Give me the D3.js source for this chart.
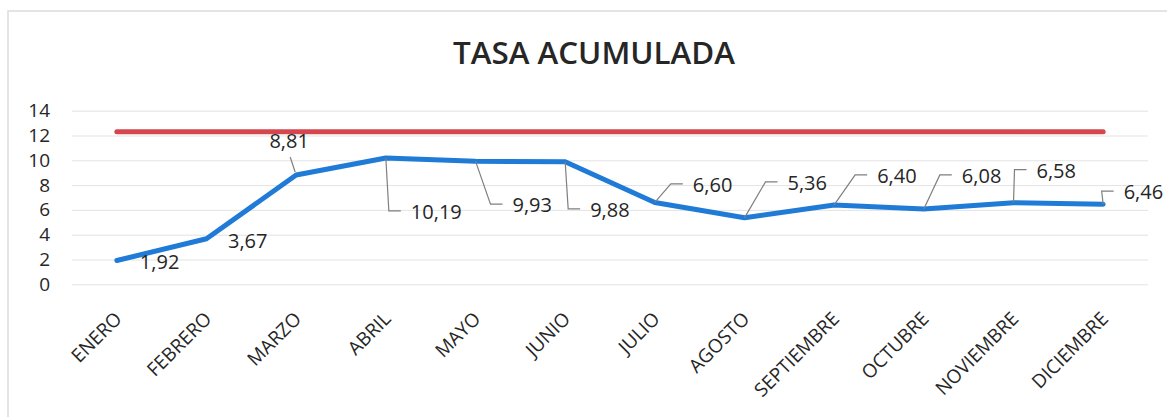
<!DOCTYPE html>
<html>
<head>
<meta charset="utf-8">
<script src="https://cdn.jsdelivr.net/npm/d3@7"></script>
<style>
  html, body { margin: 0; padding: 0; background: #fff; }
  svg { display: block; }
  text { font-family: "Open Sans", "DejaVu Sans", sans-serif; fill: #262626; }
</style>
</head>
<body>
<svg id="chart" width="1167" height="417"></svg>
<script>
// ---- data ----
const months = ["ENERO","FEBRERO","MARZO","ABRIL","MAYO","JUNIO","JULIO","AGOSTO","SEPTIEMBRE","OCTUBRE","NOVIEMBRE","DICIEMBRE"];
const tasa = [1.92, 3.67, 8.81, 10.19, 9.93, 9.88, 6.60, 5.36, 6.40, 6.08, 6.58, 6.46];
const meta = [12.3, 12.3, 12.3, 12.3, 12.3, 12.3, 12.3, 12.3, 12.3, 12.3, 12.3, 12.3];
const yTicks = [0, 2, 4, 6, 8, 10, 12, 14];
const title = "TASA ACUMULADA";

// ---- label layout (offset of label from its point) ----
const labelLayout = [
  {dx: 23, dy: 1.5, type: "none"},
  {dx: 21.5, dy: 2, type: "none"},
  {dx: -7, dy: -34, type: "above"},
  {dx: 25, dy: 54, type: "elbow"},
  {dx: 37, dy: 44, type: "elbow"},
  {dx: 25, dy: 48, type: "elbow"},
  {dx: 38, dy: -17.5, type: "elbow"},
  {dx: 43, dy: -35, type: "elbow"},
  {dx: 43, dy: -29, type: "elbow"},
  {dx: 38, dy: -33, type: "elbow"},
  {dx: 23, dy: -32, type: "elbow"},
  {dx: 20.5, dy: -12, type: "elbow"}
];

const svg = d3.select("#chart");
const plotLeft = 72, plotRight = 1148, plotTop = 110.7, plotBottom = 284.3;

// frame (top and left edges only visible)
svg.append("path").attr("d", "M8,417 L8,11 L1167,11")
  .attr("fill", "none").attr("stroke", "#dcdcdc").attr("stroke-width", 1.5);

const x = d3.scalePoint().domain(months).range([plotLeft, plotRight]).padding(0.5);
const y = d3.scaleLinear().domain([0, 14]).range([plotBottom, plotTop]);

// title
svg.append("text").attr("x", 594).attr("y", 64).attr("text-anchor", "middle")
  .attr("font-size", 30).attr("font-weight", 600).attr("fill", "#333")
  .attr("textLength", 282).attr("lengthAdjust", "spacingAndGlyphs")
  .text(title);

// gridlines
const grid = svg.append("g").attr("transform", `translate(${plotLeft},0)`)
  .call(d3.axisLeft(y).tickValues(yTicks).tickSize(-(plotRight - plotLeft)).tickFormat(""));
grid.select(".domain").remove();
grid.selectAll(".tick line").attr("stroke", "#e3e3e3").attr("stroke-width", 1);

// y axis labels
const yAxis = svg.append("g").attr("transform", `translate(${plotLeft},0)`)
  .call(d3.axisLeft(y).tickValues(yTicks).tickSize(0).tickPadding(22).tickFormat(d3.format("d")));
yAxis.select(".domain").remove();
yAxis.selectAll("text").attr("font-size", 19).attr("fill", "#333")
  .style("font-family", "'Open Sans', sans-serif");

// x axis labels
const xAxis = svg.append("g").attr("transform", `translate(0,${plotBottom})`)
  .call(d3.axisBottom(x).tickSize(0));
xAxis.select(".domain").remove();
xAxis.selectAll("text")
  .attr("font-size", 19).attr("fill", "#333")
  .style("font-family", "'Open Sans', sans-serif")
  .attr("text-anchor", "end")
  .attr("x", 0).attr("y", 0).attr("dy", "0.35em")
  .attr("transform", "translate(1,31) rotate(-45)");

// target line
const line = d3.line().x((d, i) => x(months[i])).y(d => y(d));
svg.append("path").datum(meta).attr("d", line)
  .attr("fill", "none").attr("stroke", "#d4474f").attr("stroke-width", 5)
  .attr("stroke-linecap", "round");

// main series
svg.append("path").datum(tasa).attr("d", line)
  .attr("fill", "none").attr("stroke", "#1f7bd6").attr("stroke-width", 5)
  .attr("stroke-linejoin", "round").attr("stroke-linecap", "round");

// data labels with leader lines
const fmt = v => d3.format(".2f")(v).replace(".", ",");
const lab = svg.append("g");
tasa.forEach((v, i) => {
  const px = x(months[i]), py = y(v);
  const L = labelLayout[i];
  const tx = px + L.dx, ty = py + L.dy;
  if (L.type === "elbow") {
    lab.append("path")
      .attr("d", `M${px},${py} L${tx - 22},${ty - 1} L${tx - 10},${ty - 1}`)
      .attr("fill", "none").attr("stroke", "#7f7f7f").attr("stroke-width", 1.2);
  } else if (L.type === "above") {
    lab.append("path")
      .attr("d", `M${px - 1},${py - 3} L${px - 6},${py - 18}`)
      .attr("fill", "none").attr("stroke", "#7f7f7f").attr("stroke-width", 1.2);
  }
  lab.append("text")
    .attr("x", tx).attr("y", ty).attr("dy", "0.35em")
    .attr("text-anchor", L.type === "above" ? "middle" : "start")
    .attr("font-size", 20).attr("fill", "#262626")
    .text(fmt(v));
});
</script>
</body>
</html>
